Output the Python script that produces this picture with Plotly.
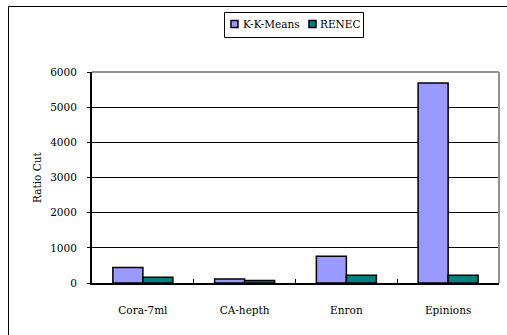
import plotly.graph_objects as go

# Ratio Cut per dataset for the two clustering methods
datasets = ["Cora-7ml", "CA-hepth", "Enron", "Epinions"]
kk_means = [440, 115, 760, 5685]
renec = [165, 70, 220, 220]
y_ticks = [0, 1000, 2000, 3000, 4000, 5000, 6000]

series = [("K-K-Means", kk_means, "#9999FF"), ("RENEC", renec, "#008080")]

W, H = 507, 335
L, R, T, B = 92, 8, 72, 52
pw, ph = W - L - R, H - T - B

def px_x(p):
    return (p - L) / pw

def px_y(p):
    return 1 - (p - T) / ph

font = dict(family="DejaVu Serif, Liberation Serif, serif", size=10.5, color="#000000")

fig = go.Figure()
for name, vals, color in series:
    fig.add_trace(go.Bar(
        name=name, x=datasets, y=vals,
        marker=dict(color=color, line=dict(color="#000000", width=1.5)),
    ))

shapes = [
    # outer chart frame, running off the right and bottom edges
    dict(type="rect", xref="paper", yref="paper",
         x0=px_x(8.5), x1=px_x(520), y0=px_y(6.5), y1=px_y(350),
         line=dict(color="#000000", width=1), layer="below"),
    # light top and right border of the plot area
    dict(type="line", xref="paper", yref="paper",
         x0=0, x1=1, y0=1, y1=1, line=dict(color="#909090", width=2)),
    dict(type="line", xref="paper", yref="paper",
         x0=1, x1=1, y0=0, y1=1, line=dict(color="#909090", width=2)),
    # legend box
    dict(type="rect", xref="paper", yref="paper",
         x0=px_x(224.5), x1=px_x(363.5), y0=px_y(12.5), y1=px_y(37.5),
         line=dict(color="#000000", width=1), fillcolor="#FFFFFF"),
]

annotations = [dict(
    text="Ratio Cut", textangle=-90, xref="paper", yref="paper",
    x=px_x(37), y=px_y(178), xanchor="center", yanchor="middle",
    showarrow=False, font=font,
)]

# legend entries: swatch + label
legend_pos = [(231, 243), (309, 320)]
for (sx, tx), (name, _, color) in zip(legend_pos, series):
    shapes.append(dict(
        type="rect", xref="paper", yref="paper",
        x0=px_x(sx), x1=px_x(sx + 7), y0=px_y(20.5), y1=px_y(27.5),
        line=dict(color="#000000", width=1.5), fillcolor=color,
    ))
    annotations.append(dict(
        text=name, xref="paper", yref="paper",
        x=px_x(tx - 2), y=px_y(24.5), xanchor="left", yanchor="middle",
        showarrow=False, font=font,
    ))

fig.update_layout(
    width=W, height=H,
    margin=dict(l=L, r=R, t=T, b=B, autoexpand=False),
    paper_bgcolor="#FFFFFF", plot_bgcolor="#FFFFFF",
    font=font,
    barmode="group", bargap=0.41, bargroupgap=0,
    showlegend=False,
    xaxis=dict(
        type="category", showline=True, linecolor="#000000", linewidth=2,
        tickson="boundaries", ticks="inside", ticklen=4, tickcolor="#000000",
        ticklabelstandoff=16, showgrid=False, zeroline=False, fixedrange=True,
    ),
    yaxis=dict(
        range=[0, 6000], tickvals=y_ticks, ticktext=[str(v) for v in y_ticks],
        showline=True, linecolor="#000000", linewidth=2,
        ticks="outside", ticklen=3, tickcolor="#000000", ticklabelstandoff=8,
        showgrid=True, gridcolor="#000000", gridwidth=1, zeroline=False,
        fixedrange=True,
    ),
    shapes=shapes,
    annotations=annotations,
)

fig.write_html("out.html")
